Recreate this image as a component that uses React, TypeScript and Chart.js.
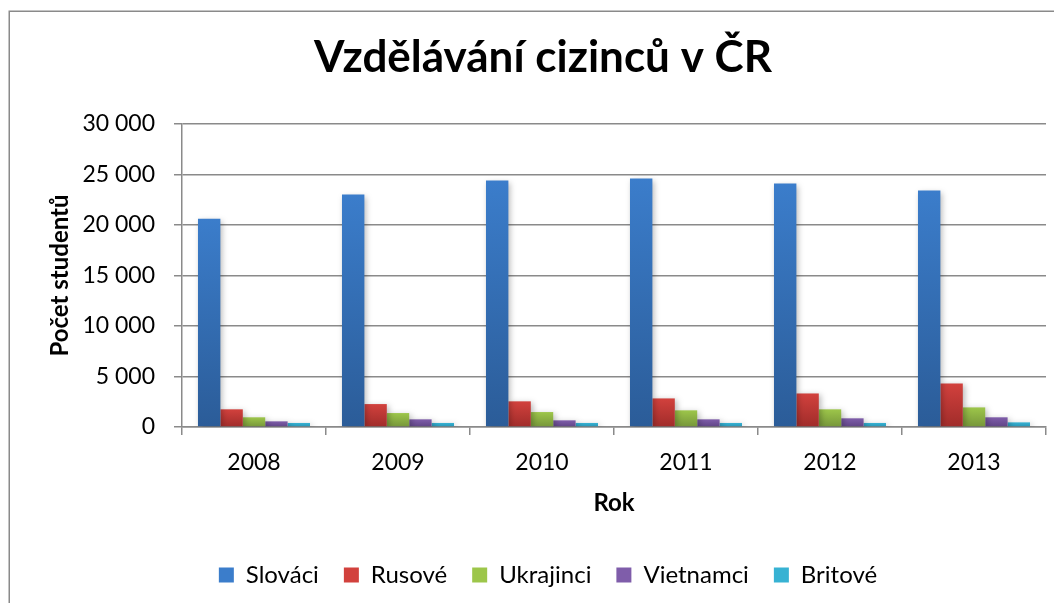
import { useEffect, useRef } from "react";
import { Chart, registerables } from "chart.js";

Chart.register(...registerables);

const years = ["2008", "2009", "2010", "2011", "2012", "2013"];
const seriesNames = ["Slováci", "Rusové", "Ukrajinci", "Vietnamci", "Britové"];
const slovaci = [20630, 23010, 24400, 24600, 24100, 23410];
const rusove = [1750, 2270, 2540, 2830, 3320, 4310];
const ukrajinci = [960, 1380, 1480, 1650, 1750, 1940];
const vietnamci = [560, 760, 660, 760, 860, 960];
const britove = [400, 400, 400, 400, 400, 460];
const yTickStep = 5000;
const yMax = 30000;

const topColors = ["#3B7DCB", "#D2413D", "#9DC64A", "#7F5DAA", "#37B2D3"];
const bottomColors = ["#2B5C98", "#A02C2A", "#76963A", "#5F4485", "#2793B3"];

const FONT = "Lato, 'Open Sans', sans-serif";

function fmt(v: number) {
  return String(v).replace(/\B(?=(\d{3})+(?!\d))/g, " ");
}

export default function App() {
  const ref = useRef<HTMLCanvasElement | null>(null);
  useEffect(() => {
    if (!ref.current) return;
    const all = [slovaci, rusove, ukrajinci, vietnamci, britove];
    const grad = (i: number) => (ctx: any) => {
      const chart = ctx.chart;
      const ys = chart.scales?.y;
      if (!ys || ctx.dataIndex === undefined) return topColors[i];
      const v = all[i][ctx.dataIndex];
      const y0 = ys.getPixelForValue(v);
      const y1 = ys.getPixelForValue(0);
      if (!isFinite(y0) || !isFinite(y1) || y0 === y1) return topColors[i];
      const g = chart.ctx.createLinearGradient(0, y0, 0, y1);
      g.addColorStop(0, topColors[i]);
      g.addColorStop(1, bottomColors[i]);
      return g;
    };
    const borderPlugin = {
      id: "outerBorder",
      beforeDraw(chart: any) {
        const c = chart.ctx;
        c.save();
        c.fillStyle = "#fff";
        c.fillRect(0, 0, chart.width, chart.height);
        c.strokeStyle = "#8a8a8a";
        c.lineWidth = 1.5;
        c.strokeRect(1.25, 3.25, chart.width + 20, chart.height + 20);
        c.restore();
      },
    };
    const shiftPlugin = {
      id: "shiftBlocks",
      afterLayout(chart: any) {
        const lg = chart.legend;
        if (lg) {
          lg.left += 16;
          lg.right += 16;
        }
        const tb = chart.titleBlock;
        if (tb) {
          tb.left += 11;
          tb.right += 11;
        }
      },
    };
    const shadowPlugin = {
      id: "barShadow",
      beforeDatasetsDraw(chart: any) {
        const c = chart.ctx;
        c.save();
        c.shadowColor = "rgba(0,0,0,0.28)";
        c.shadowBlur = 6;
        c.shadowOffsetX = 2;
        c.shadowOffsetY = 2;
      },
      afterDatasetsDraw(chart: any) {
        chart.ctx.restore();
      },
    };
    const chart = new Chart(ref.current, {
      type: "bar",
      data: {
        labels: years,
        datasets: all.map((d, i) => ({
          label: seriesNames[i],
          data: d,
          backgroundColor: grad(i),
          borderWidth: 0,
          categoryPercentage: 0.778,
          barPercentage: 1,
        })),
      },
      options: {
        animation: false,
        responsive: false,
        maintainAspectRatio: false,
        layout: { padding: { left: 10, right: 8, top: 0, bottom: 6 } },
        plugins: {
          title: {
            display: true,
            text: "Vzdělávání cizinců v ČR",
            color: "#000",
            font: { family: FONT, size: 44, weight: "bold" },
            padding: { top: 23.6, bottom: 39.6 },
          },
          legend: {
            position: "bottom",
            labels: {
              color: "#000",
              font: { family: FONT, size: 24 },
              boxWidth: 15,
              boxHeight: 15,
              padding: 25,
              generateLabels: () =>
                seriesNames.map((n, i) => ({
                  text: n,
                  fillStyle: topColors[i],
                  strokeStyle: topColors[i],
                  lineWidth: 0,
                  datasetIndex: i,
                  hidden: false,
                })),
            },
          },
          tooltip: { enabled: false },
        },
        scales: {
          x: {
            grid: {
              display: true,
              drawOnChartArea: false,
              drawTicks: true,
              tickLength: 8,
              color: "#8a8a8a",
              lineWidth: 1.5,
              offset: true,
            },
            border: { display: true, color: "#8a8a8a", width: 1.5 },
            ticks: { color: "#000", font: { family: FONT, size: 23 }, padding: 14 },
            title: {
              display: true,
              text: "Rok",
              color: "#000",
              font: { family: FONT, size: 24, weight: "bold" },
              padding: { top: 4, bottom: 20.6 },
            },
            afterFit(scale: any) {
              scale.height = 111;
            },
          },
          y: {
            min: 0,
            max: yMax,
            ticks: {
              stepSize: yTickStep,
              color: "#000",
              font: { family: FONT, size: 23 },
              padding: 19,
              callback: (v: any) => fmt(Number(v)),
            },
            grid: {
              color: "#8a8a8a",
              lineWidth: 1.5,
              tickLength: 8,
              drawTicks: true,
            },
            border: { display: true, color: "#8a8a8a", width: 1.5 },
            title: {
              display: true,
              text: "Počet studentů",
              color: "#000",
              font: { family: FONT, size: 24, weight: "bold" },
              padding: { top: 27.6, bottom: 4 },
            },
            afterFit(scale: any) {
              scale.width = 164;
            },
          },
        },
      },
      plugins: [borderPlugin, shiftPlugin, shadowPlugin],
    });
    return () => chart.destroy();
  }, []);
  return <canvas ref={ref} width={1046} height={595} style={{ display: "block" }} />;
}
